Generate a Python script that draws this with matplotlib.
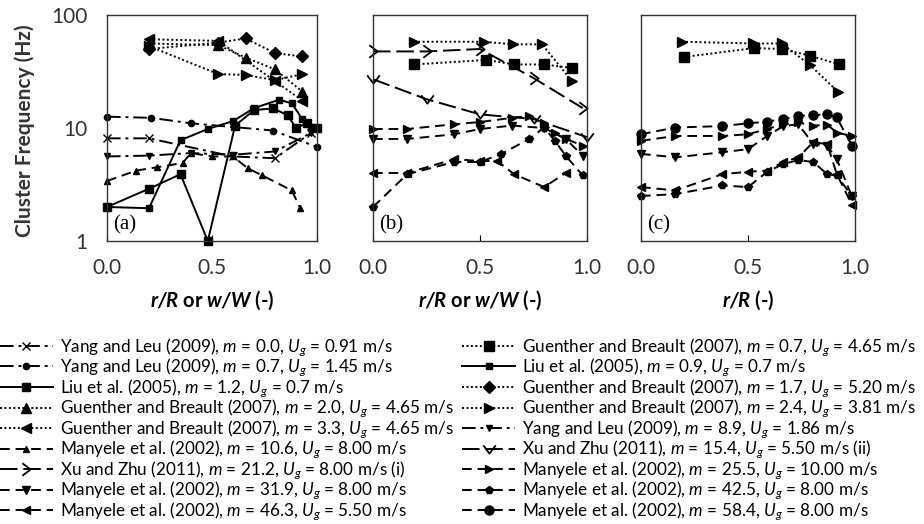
import matplotlib
matplotlib.use("Agg")
import matplotlib.pyplot as plt
from matplotlib.lines import Line2D
from matplotlib.path import Path

plt.rcParams['font.family'] = ['Lato', 'DejaVu Sans']
plt.rcParams['mathtext.fontset'] = 'custom'
plt.rcParams['mathtext.rm'] = 'Lato'
plt.rcParams['mathtext.it'] = 'Lato:italic'
plt.rcParams['mathtext.bf'] = 'Lato:bold:italic'

# ---- data ----
# panel (a)
a_yang00_x = [0.0, 0.2, 0.6, 0.8, 0.97]
a_yang00_y = [8.1, 8.1, 5.6, 5.4, 9.0]
a_yang07_x = [0.0, 0.21, 0.4, 0.79, 1.0]
a_yang07_y = [12.6, 12.3, 11.0, 9.5, 6.8]
a_yang89_x = [0.0, 0.2, 0.4, 0.6, 0.8, 0.97]
a_yang89_y = [5.6, 5.7, 6.0, 5.8, 6.2, 9.0]
a_liu12_x = [0.0, 0.2, 0.35, 0.48, 0.61, 0.7, 0.79, 0.86, 0.9, 0.95, 1.0]
a_liu12_y = [2.0, 2.9, 3.9, 1.0, 10.5, 14.4, 14.9, 13.0, 10.0, 11.0, 10.0]
a_liu09_x = [0.0, 0.2, 0.35, 0.48, 0.6, 0.7, 0.82, 0.88, 0.93, 0.97]
a_liu09_y = [2.0, 1.95, 7.8, 9.8, 11.5, 15.0, 17.8, 16.5, 12.0, 10.3]
a_gb20_x = [0.2, 0.53, 0.66, 0.8, 0.93]
a_gb20_y = [56, 54, 42, 33, 21]
a_gb33_x = [0.2, 0.53, 0.8, 0.93]
a_gb33_y = [61, 59, 26, 17.5]
a_gb17_x = [0.2, 0.53, 0.66, 0.8, 0.93]
a_gb17_y = [50, 57, 62, 46, 43]
a_gb24_x = [0.2, 0.53, 0.66, 0.8, 0.93]
a_gb24_y = [53, 30, 29.5, 26.5, 30]
a_man106_x = [0.0, 0.14, 0.24, 0.36, 0.4, 0.5, 0.6, 0.67, 0.74, 0.88, 0.92]
a_man106_y = [3.4, 4.2, 4.5, 4.9, 6.0, 5.6, 5.6, 4.4, 3.8, 2.8, 1.95]

# panel (b)
b_gb24_x = [0.19, 0.52, 0.655, 0.79, 0.93]
b_gb24_y = [58, 58, 55, 55, 26]
b_gb07_x = [0.19, 0.53, 0.66, 0.8, 0.93]
b_gb07_y = [36.5, 40, 36.5, 36.5, 34]
b_xu212_x = [0.0, 0.25, 0.5, 0.75, 0.98]
b_xu212_y = [47.6, 47.6, 50, 27.7, 15]
b_xu154_x = [0.0, 0.25, 0.5, 0.75, 1.0]
b_xu154_y = [27, 18, 13.2, 12.0, 8.3]
b_man255_x = [0.0, 0.16, 0.38, 0.5, 0.65, 0.73, 0.8, 0.85, 0.9, 0.98]
b_man255_y = [9.8, 9.8, 10.8, 11.3, 12.3, 12.8, 11.0, 9.0, 8.0, 7.0]
b_man319_x = [0.0, 0.16, 0.38, 0.5, 0.65, 0.8, 0.9, 0.98]
b_man319_y = [8.0, 8.0, 8.8, 9.8, 10.5, 10.0, 8.0, 5.7]
b_man463_x = [0.0, 0.16, 0.38, 0.5, 0.58, 0.66, 0.8, 0.9]
b_man463_y = [4.0, 4.0, 5.3, 5.1, 5.1, 3.9, 3.0, 4.0]
b_man425_x = [0.0, 0.16, 0.38, 0.5, 0.6, 0.73, 0.8, 0.85, 0.9, 0.98]
b_man425_y = [2.0, 3.9, 5.0, 5.0, 5.9, 8.0, 10.1, 7.7, 5.7, 3.8]

# panel (c)
c_x = [0.0, 0.16, 0.38, 0.5, 0.59, 0.665, 0.735, 0.805, 0.87, 0.915, 0.985]
c_gb24_x = [0.19, 0.525, 0.657, 0.79, 0.92]
c_gb24_y = [58, 56, 56, 36, 21]
c_gb07_x = [0.2, 0.53, 0.66, 0.79, 0.927]
c_gb07_y = [42.5, 51, 50, 43.6, 36.5]
c_man584_y = [8.8, 10.1, 10.4, 11.0, 11.4, 12.0, 12.8, 13.0, 13.2, 12.4, 7.0]
c_man255_y = [7.7, 8.5, 8.5, 8.8, 9.8, 10.8, 11.2, 10.5, 10.7, 9.1, 8.5]
c_man319_y = [5.9, 5.5, 6.1, 6.5, 8.5, 10.4, 10.8, 7.2, 7.0, 5.3, 2.5]
c_man463_y = [3.0, 2.8, 3.9, 4.1, 4.2, 5.0, 5.5, 7.5, 7.2, 3.9, 2.1]
c_man425_y = [2.5, 2.6, 3.1, 3.0, 4.1, 4.8, 5.2, 5.0, 3.9, 3.8, 2.5]

legend_labels = [
    "Yang and Leu (2009), $m$ = 0.0, $U_g$ = 0.91 m/s",
    "Yang and Leu (2009), $m$ = 0.7, $U_g$ = 1.45 m/s",
    "Liu et al. (2005), $m$ = 1.2, $U_g$ = 0.7 m/s",
    "Guenther and Breault (2007), $m$ = 2.0, $U_g$ = 4.65 m/s",
    "Guenther and Breault (2007), $m$ = 3.3, $U_g$ = 4.65 m/s",
    "Manyele et al. (2002), $m$ = 10.6, $U_g$ = 8.00 m/s",
    "Xu and Zhu (2011), $m$ = 21.2, $U_g$ = 8.00 m/s (i)",
    "Manyele et al. (2002), $m$ = 31.9, $U_g$ = 8.00 m/s",
    "Manyele et al. (2002), $m$ = 46.3, $U_g$ = 5.50 m/s",
    "Guenther and Breault (2007), $m$ = 0.7, $U_g$ = 4.65 m/s",
    "Liu et al. (2005), $m$ = 0.9, $U_g$ = 0.7 m/s",
    "Guenther and Breault (2007), $m$ = 1.7, $U_g$ = 5.20 m/s",
    "Guenther and Breault (2007), $m$ = 2.4, $U_g$ = 3.81 m/s",
    "Yang and Leu (2009), $m$ = 8.9, $U_g$ = 1.86 m/s",
    "Xu and Zhu (2011), $m$ = 15.4, $U_g$ = 5.50 m/s (ii)",
    "Manyele et al. (2002), $m$ = 25.5, $U_g$ = 10.00 m/s",
    "Manyele et al. (2002), $m$ = 42.5, $U_g$ = 8.00 m/s",
    "Manyele et al. (2002), $m$ = 58.4, $U_g$ = 8.00 m/s",
]

# ---- styles ----
DASHDOT = (0, (7, 2.5, 1.5, 2.5))
DOT = (0, (1, 1.3))
DASH = (0, (5, 3))
LONG = (0, (9, 3))
chev_r = Path([(-0.6, 0.9), (0.6, 0.0), (-0.6, -0.9)])
chev_v = Path([(-0.9, 0.6), (0.0, -0.6), (0.9, 0.6)])

st = {
    'yang00': dict(ls=DASHDOT, marker='x', ms=6, mew=1),
    'yang07': dict(ls=DASHDOT, marker='o', ms=4.5),
    'liu12': dict(ls='-', marker='s', ms=6),
    'gb20': dict(ls=DOT, marker='^', ms=6.5),
    'gb33': dict(ls=DOT, marker='<', ms=6.5),
    'man106': dict(ls=DASH, marker='^', ms=4.5),
    'xu212': dict(ls=LONG, marker=chev_r, ms=9, mfc='none', mew=1.3),
    'man319': dict(ls=DASH, marker='v', ms=5.5),
    'man463': dict(ls=DASH, marker='<', ms=5.5),
    'gb07': dict(ls=DOT, marker='s', ms=7),
    'liu09': dict(ls='-', marker='s', ms=4),
    'gb17': dict(ls=DOT, marker='D', ms=6),
    'gb24': dict(ls=DOT, marker='>', ms=6.5),
    'yang89': dict(ls=DASHDOT, marker='v', ms=4.5),
    'xu154': dict(ls=LONG, marker=chev_v, ms=9, mfc='none', mew=1.3),
    'man255': dict(ls=DASH, marker='>', ms=5.5),
    'man425': dict(ls=DASH, marker='p', ms=5.5),
    'man584': dict(ls=DASH, marker='o', ms=6.5),
}
order = ['yang00', 'yang07', 'liu12', 'gb20', 'gb33', 'man106', 'xu212', 'man319', 'man463',
         'gb07', 'liu09', 'gb17', 'gb24', 'yang89', 'xu154', 'man255', 'man425', 'man584']


def draw(ax, x, y, key):
    ax.plot(x, y, color='black', lw=1.4, **st[key])


fig = plt.figure(figsize=(9.24, 5.24), dpi=100)
W, H = 924, 524
boxes = [(107, 317), (373, 587), (641, 855)]
axs = []
for l, r in boxes:
    axs.append(fig.add_axes([l / W, (H - 241) / H, (r - l) / W, 226 / H]))
ax_a, ax_b, ax_c = axs

draw(ax_a, a_yang00_x, a_yang00_y, 'yang00')
draw(ax_a, a_yang07_x, a_yang07_y, 'yang07')
draw(ax_a, a_yang89_x, a_yang89_y, 'yang89')
draw(ax_a, a_liu12_x, a_liu12_y, 'liu12')
draw(ax_a, a_liu09_x, a_liu09_y, 'liu09')
draw(ax_a, a_gb20_x, a_gb20_y, 'gb20')
draw(ax_a, a_gb33_x, a_gb33_y, 'gb33')
draw(ax_a, a_gb17_x, a_gb17_y, 'gb17')
draw(ax_a, a_gb24_x, a_gb24_y, 'gb24')
draw(ax_a, a_man106_x, a_man106_y, 'man106')

draw(ax_b, b_gb24_x, b_gb24_y, 'gb24')
draw(ax_b, b_gb07_x, b_gb07_y, 'gb07')
draw(ax_b, b_xu212_x, b_xu212_y, 'xu212')
draw(ax_b, b_xu154_x, b_xu154_y, 'xu154')
draw(ax_b, b_man255_x, b_man255_y, 'man255')
draw(ax_b, b_man319_x, b_man319_y, 'man319')
draw(ax_b, b_man463_x, b_man463_y, 'man463')
draw(ax_b, b_man425_x, b_man425_y, 'man425')

draw(ax_c, c_gb24_x, c_gb24_y, 'gb24')
draw(ax_c, c_gb07_x, c_gb07_y, 'gb07')
draw(ax_c, c_x, c_man255_y, 'man255')
draw(ax_c, c_x, c_man319_y, 'man319')
draw(ax_c, c_x, c_man463_y, 'man463')
draw(ax_c, c_x, c_man425_y, 'man425')
draw(ax_c, c_x, c_man584_y, 'man584')

for ax, tag in zip(axs, ['(a)', '(b)', '(c)']):
    ax.set_yscale('log')
    ax.set_ylim(1, 100)
    ax.set_xlim(0, 1)
    ax.set_xticks([0, 0.5, 1.0])
    ax.set_xticklabels(['0.0', '0.5', '1.0'], fontsize=15, color='#333333')
    ax.minorticks_off()
    ax.set_yticks([1, 10, 100])
    ax.tick_params(axis='x', direction='in', length=4, pad=12)
    ax.tick_params(axis='y', length=0, pad=14)
    for s in ax.spines.values():
        s.set_linewidth(1.0)
        s.set_color('#333333')
    ax.text(0.03, 0.03, tag, transform=ax.transAxes, fontsize=15,
            family='Liberation Serif', va='bottom', ha='left')
    for ln in ax.lines:
        ln.set_clip_on(False)
ax_a.set_yticklabels(['1', '10', '100'], fontsize=15, color='#333333')
ax_b.set_yticklabels([])
ax_c.set_yticklabels([])

fig.text(25 / W, (H - 131) / H, 'Cluster Frequency (Hz)', rotation=90, fontsize=15,
         fontweight='bold', ha='center', va='center', color='#333333')
xl = r'$\mathbf{r/R}$ or $\mathbf{w/W}$ (-)'
fig.text(212 / W, (H - 300) / H, xl, fontsize=14.5, fontweight='bold', ha='center', va='center')
fig.text(480 / W, (H - 300) / H, xl, fontsize=14.5, fontweight='bold', ha='center', va='center')
fig.text(748 / W, (H - 300) / H, r'$\mathbf{r/R}$ (-)', fontsize=14.5, fontweight='bold',
         ha='center', va='center')

handles = [Line2D([], [], color='black', lw=1.4, **st[k]) for k in order]
fig.legend(handles, legend_labels, loc='upper left', bbox_to_anchor=(0.0, (H - 336) / H),
           ncol=2, frameon=False, fontsize=12.3, handlelength=3.1, handletextpad=0.4,
           columnspacing=0.5, labelspacing=-0.12, borderaxespad=0, borderpad=0, numpoints=1)

fig.savefig('out.png', dpi=100)
